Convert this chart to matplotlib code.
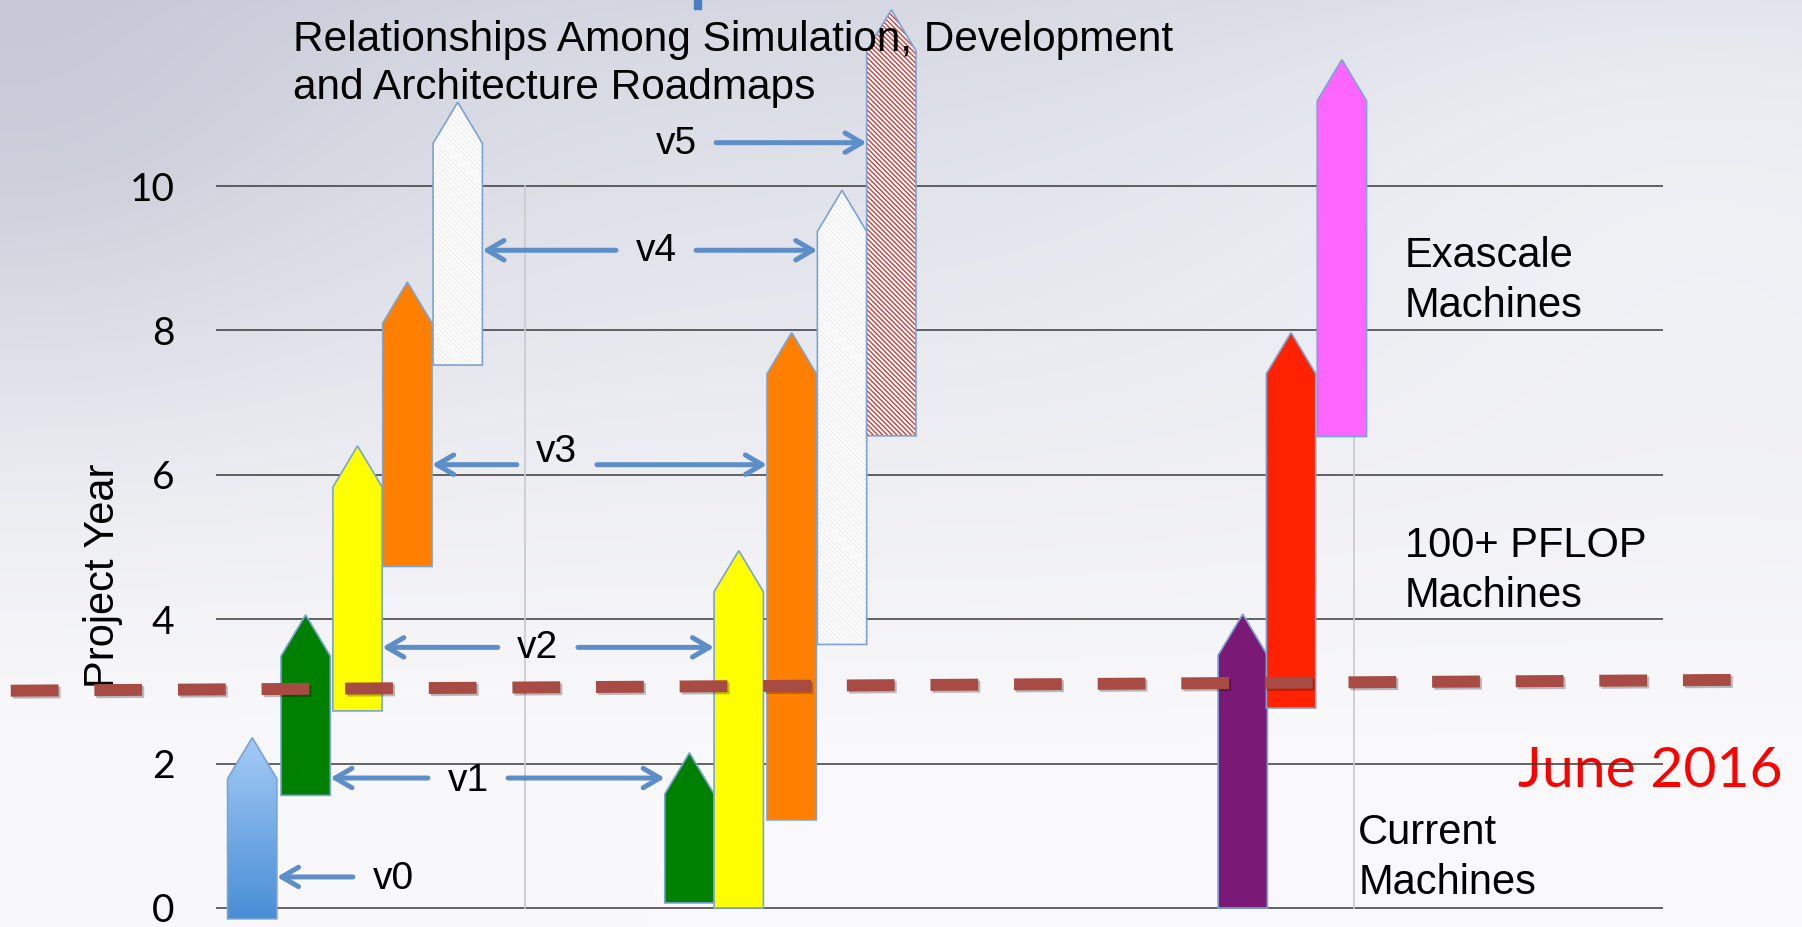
import numpy as np
import matplotlib.pyplot as plt
from matplotlib.patches import Polygon, Arc
import matplotlib.patheffects as pe

W, H, DPI = 1802, 927, 100

# roadmap arrows: slot on the time line, start year, end year (tip)
arrow_slot = [0.0, 1.04, 2.05, 3.02, 4.0,
              8.51, 9.47, 10.5, 11.48, 12.44,
              19.28, 20.22, 21.21]
arrow_start = [-0.15, 1.56, 2.73, 4.73, 7.52,
               0.07, 0.0, 1.22, 3.65, 6.54,
               0.0, 2.77, 6.53]
arrow_end = [2.36, 4.06, 6.4, 8.67, 11.16,
             2.15, 4.95, 7.97, 9.94, 12.44,
             4.07, 7.97, 11.75]
arrow_fill = ['gradient', '#008000', '#FFFF00', '#FF7F00', 'white',
              '#008000', '#FFFF00', '#FF7F00', 'white', 'redhatch',
              '#7B1A76', '#FF2200', '#FF66FF']

# version links between simulation and development arrows
link_label = ['v0', 'v1', 'v2', 'v3', 'v4', 'v5']
link_year = [0.43, 1.8, 3.61, 6.14, 9.11, 10.6]
link_label_year = [0.4, 1.76, 3.6, 6.32, 9.1, 10.58]
link_label_x = [2.74, 4.2, 5.56, 5.93, 7.86, 8.25]
link_left = [0, 1, 2, 3, 4, None]
link_right = [None, 5, 6, 7, 8, 9]

year_ticks = [0, 2, 4, 6, 8, 10]
today_x = [-4.7, 29.0]
today_y = [3.01, 3.16]

ARROW_W = 0.96
HEAD = 0.57

fig = plt.figure(figsize=(W / DPI, H / DPI), dpi=DPI)

# slide background
bg = fig.add_axes([0, 0, 1, 1])
bg.axis('off')
yy, xx = np.mgrid[0:1:300j, 0:1:600j]
top = np.array([212, 214, 225]) / 255
bot = np.array([249, 249, 251]) / 255
t = np.clip(yy / 0.8, 0, 1) ** 0.8
img = top + (bot - top) * t[..., None]
dark = np.exp(-(((xx - 0.0) / 0.22) ** 2 + ((yy - 0.15) / 0.3) ** 2))
img -= dark[..., None] * np.array([0.07, 0.07, 0.055])
light = np.exp(-(((xx - 0.95) / 0.3) ** 2 + ((yy - 0.1) / 0.35) ** 2))
img += light[..., None] * np.array([0.06, 0.06, 0.045])
img = np.clip(img, 0, 1)
bg.imshow(img, extent=[0, W, H, 0], aspect='auto', interpolation='bilinear')
bg.add_patch(Arc((830, 900), 2080, 2080, theta1=110, theta2=150,
                 color='white', lw=2.5, alpha=0.6))
for r, a in [(1100, 0.45), (1250, 0.35), (1400, 0.3)]:
    bg.add_patch(Arc((2100, 1100), 2 * r, 2 * r, theta1=95, theta2=175,
                     color='white', lw=6, alpha=a))
# bit of the cut-off slide heading
bg.add_patch(plt.Rectangle((694, 0), 7, 9, color='#4A7EC0'))
bg.set_xlim(0, W)
bg.set_ylim(H, 0)

ax = fig.add_axes([216 / W, 0, (1663 - 216) / W, 1])
ax.set_facecolor('none')
ylim = (-19 / 72.2, 908 / 72.2)
xlim = (-0.705, 27.46)

for i in range(len(arrow_slot)):
    x, y0, y1 = arrow_slot[i], arrow_start[i], arrow_end[i]
    pts = [(x - ARROW_W / 2, y0), (x + ARROW_W / 2, y0), (x + ARROW_W / 2, y1 - HEAD),
           (x, y1), (x - ARROW_W / 2, y1 - HEAD)]
    z = 2 + i * 0.01
    fill = arrow_fill[i]
    if fill == 'gradient':
        body = Polygon(pts, closed=True, facecolor='none', edgecolor='none', zorder=z)
        ax.add_patch(body)
        c_top = np.array([165, 203, 246]) / 255
        c_bot = np.array([72, 142, 214]) / 255
        g = np.linspace(0, 1, 128)[:, None, None]
        grad = c_top + (c_bot - c_top) * g
        grad = np.repeat(grad, 4, axis=1)
        ax.imshow(grad, extent=[x - ARROW_W / 2, x + ARROW_W / 2, y0, y1],
                  aspect='auto', origin='upper', interpolation='bilinear',
                  clip_path=body, zorder=z)
    elif fill in ('white', 'redhatch'):
        ax.add_patch(Polygon(pts, closed=True, facecolor='white', edgecolor='none', zorder=z))
        hc = '#EFEFEF' if fill == 'white' else '#C8403C'
        ax.add_patch(Polygon(pts, closed=True, facecolor='none', edgecolor=hc, lw=0,
                             hatch='\\' * 7, zorder=z))
    else:
        ax.add_patch(Polygon(pts, closed=True, facecolor=fill, edgecolor='none', zorder=z))
    ax.add_patch(Polygon(pts, closed=True, facecolor='none', edgecolor='#7AA3D6',
                         lw=1.2, zorder=z))

# version links
link_style = dict(arrowstyle='->,head_length=0.6,head_width=0.35', color='#5D8EC8',
                  lw=3.6, shrinkA=0, shrinkB=0, mutation_scale=20)
gap = 0.78
for k in range(len(link_label)):
    y = link_year[k]
    lx = link_label_x[k]
    if link_left[k] is not None:
        tx = arrow_slot[link_left[k]] + ARROW_W / 2
        ax.annotate('', xy=(tx, y), xytext=(lx - gap, y), arrowprops=link_style, zorder=5)
    if link_right[k] is not None:
        tx = arrow_slot[link_right[k]] - ARROW_W / 2
        ax.annotate('', xy=(tx, y), xytext=(lx + gap, y), arrowprops=link_style, zorder=5)
    ax.text(lx, link_label_year[k], link_label[k], fontsize=28, family='Liberation Sans',
            ha='center', va='center', zorder=5)

# faint separators
for sx, top_y in [(5.31, 10), (21.45, 10)]:
    ax.plot([sx, sx], [0, top_y], color='#C9C9CD', lw=1.2, zorder=0.6)

# machine classes (y = baseline of the last line)
label_kw = dict(fontsize=30, family='Liberation Sans', ha='left', va='baseline',
                linespacing=1.32)
ax.text(22.44, 8.19, 'Exascale\nMachines', **label_kw)
ax.text(22.44, 4.17, '100+ PFLOP\nMachines', **label_kw)
ax.text(21.53, 0.2, 'Current\nMachines', **label_kw)

ax.text(24.64, 1.68, 'June 2016', fontsize=41, family='Lato', color='#FF0000',
        ha='left', va='baseline', zorder=0.4)

# today marker
ax.plot(today_x, today_y, color='#A84B45', lw=8.6, dashes=(4, 3),
        solid_capstyle='butt', dash_capstyle='butt', clip_on=False, zorder=10,
        path_effects=[pe.SimpleLineShadow(offset=(1.5, -1.5), alpha=0.25), pe.Normal()])

ax.set_xlim(*xlim)
ax.set_ylim(*ylim)
ax.set_yticks(year_ticks)
ax.set_yticklabels([str(v) for v in year_ticks], fontsize=28, family='Lato')
ax.tick_params(axis='y', length=0, pad=30)
ax.set_xticks([])
for s in ax.spines.values():
    s.set_visible(False)
ax.grid(axis='y', color='#3A3A3A', lw=1.1)
ax.set_axisbelow(True)
ax.set_ylabel('Project Year', fontsize=30, family='Liberation Sans')
ax.yaxis.set_label_coords(-0.064, (927 - 576) / 927)

fig.text(293 / W, 1 - 99 / H,
         'Relationships Among Simulation, Development\nand Architecture Roadmaps',
         fontsize=30.5, family='Liberation Sans', ha='left', va='baseline', linespacing=1.27)

fig.savefig('out.png', dpi=DPI)
